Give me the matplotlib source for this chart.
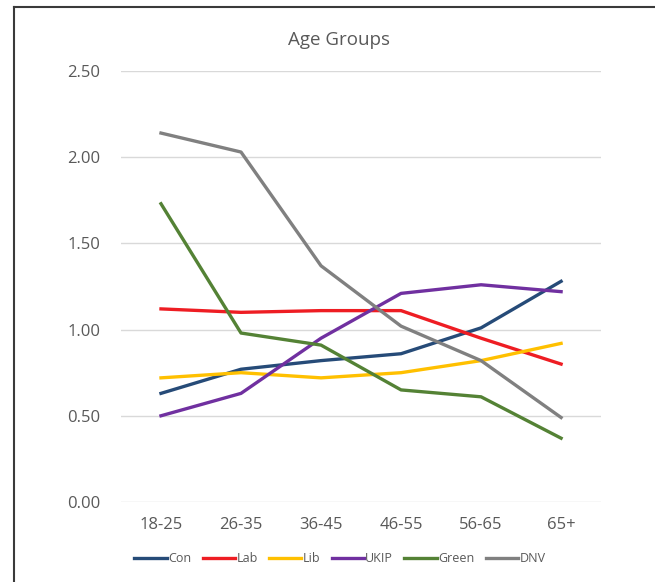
import matplotlib.pyplot as plt
from matplotlib.lines import Line2D

# Age group categories and party series
age_groups = ['18-25', '26-35', '36-45', '46-55', '56-65', '65+']
con = [0.63, 0.77, 0.82, 0.86, 1.01, 1.28]
lab = [1.12, 1.10, 1.11, 1.11, 0.95, 0.80]
lib = [0.72, 0.75, 0.72, 0.75, 0.82, 0.92]
ukip = [0.50, 0.63, 0.95, 1.21, 1.26, 1.22]
green = [1.73, 0.98, 0.91, 0.65, 0.61, 0.37]
dnv = [2.14, 2.03, 1.37, 1.02, 0.82, 0.49]

series = [
    ('Con', con, '#264B78'),
    ('Lab', lab, '#EE1D23'),
    ('Lib', lib, '#FFC000'),
    ('UKIP', ukip, '#7030A0'),
    ('Green', green, '#548235'),
    ('DNV', dnv, '#808080'),
]

text_color = '#595959'
plt.rcParams['font.family'] = ['Open Sans', 'DejaVu Sans']

fig = plt.figure(figsize=(6.55, 5.82), dpi=100)
ax = fig.add_axes([0.1847, 0.1375, 0.733, 0.7405])

x = range(len(age_groups))
for name, values, color in series:
    ax.plot(x, values, color=color, linewidth=2.4, label=name)

ax.set_xlim(-0.5, len(age_groups) - 0.5)
ax.set_ylim(0, 2.5)
ax.set_yticks([0, 0.5, 1.0, 1.5, 2.0, 2.5])
ax.set_yticklabels([f'{v:.2f}' for v in [0, 0.5, 1.0, 1.5, 2.0, 2.5]])
ax.set_xticks(list(x))
ax.set_xticklabels(age_groups)
ax.tick_params(axis='both', length=0, labelsize=12, labelcolor=text_color)
ax.tick_params(axis='y', pad=15)
ax.tick_params(axis='x', pad=11)
ax.grid(axis='y', color='#D9D9D9', linewidth=1)
ax.set_axisbelow(True)
for spine in ax.spines.values():
    spine.set_visible(False)

fig.text(339 / 655, 1 - 40 / 582, 'Age Groups', ha='center', va='center',
         fontsize=13.5, color=text_color)

fig.legend(loc='center', bbox_to_anchor=(340 / 655, 1 - 559 / 582), ncol=6,
           frameon=False, fontsize=9, labelcolor=text_color,
           handlelength=2.6, handletextpad=0.1, columnspacing=0.9)

# outer frame (left and top edges)
fig.add_artist(Line2D([14 / 655, 14 / 655], [0, 1 - 7 / 582], transform=fig.transFigure,
                      color='#3A3A3A', linewidth=1.5))
fig.add_artist(Line2D([14 / 655, 1], [1 - 7 / 582, 1 - 7 / 582], transform=fig.transFigure,
                      color='#3A3A3A', linewidth=1.5))

fig.savefig('out.png', dpi=100)
